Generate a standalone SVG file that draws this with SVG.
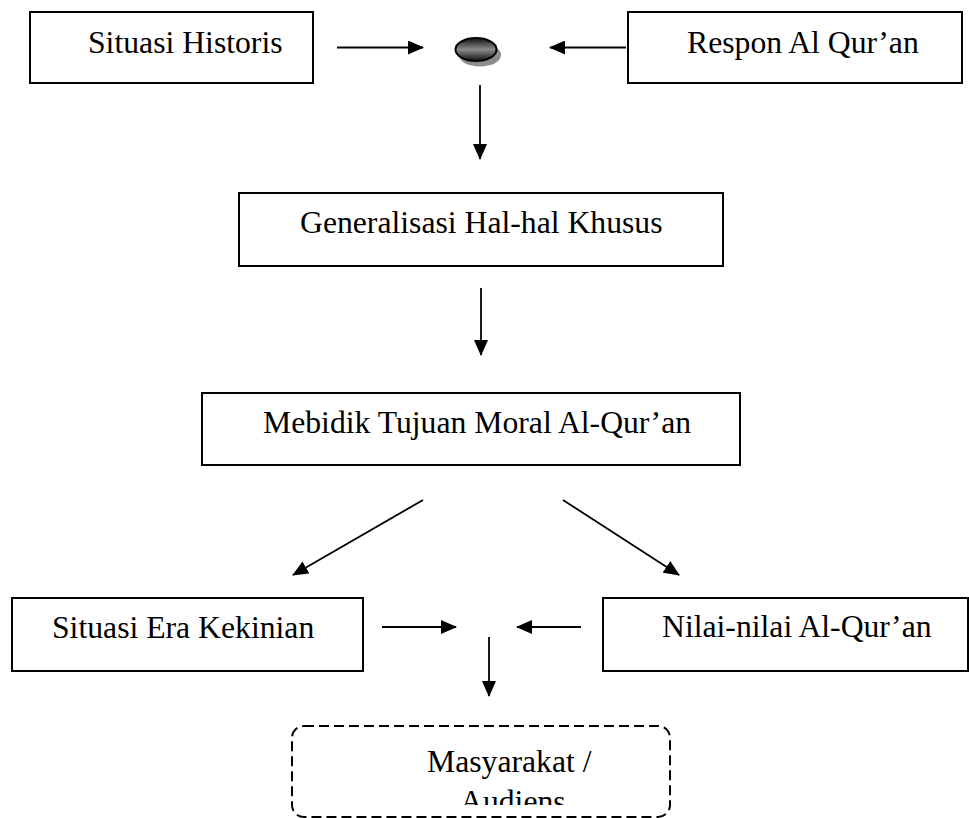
<svg xmlns="http://www.w3.org/2000/svg" width="969" height="818" viewBox="0 0 969 818">
<style>
.box{fill:#fff;stroke:#000;stroke-width:2}
.lbl{font-family:"Liberation Serif","Times New Roman",serif;font-size:31.7px;fill:#000}
.con{stroke:#000;stroke-width:1.8;fill:none;marker-end:url(#ah)}
</style>
<defs>
<marker id="ah" markerUnits="userSpaceOnUse" markerWidth="16" markerHeight="14" refX="15" refY="7" orient="auto">
<path d="M0,0 L16,7 L0,14 z" fill="#000"/>
</marker>
<linearGradient id="eg" x1="0" y1="0" x2="0" y2="1">
<stop offset="0" stop-color="#111"/>
<stop offset="0.5" stop-color="#8a8a8a"/>
<stop offset="1" stop-color="#111"/>
</linearGradient>
<clipPath id="clipA"><rect x="292" y="726" width="378" height="79"/></clipPath>
</defs>
<rect width="969" height="818" fill="#fff"/>
<g id="n-historis">
<rect class="box" x="30" y="12" width="283" height="71"/>
<text class="lbl" x="88" y="53">Situasi Historis</text>
</g>
<g id="n-respon">
<rect class="box" x="628" y="12" width="334" height="71"/>
<text class="lbl" x="687" y="53">Respon Al Qur’an</text>
</g>
<g id="n-dot">
<ellipse cx="480" cy="55" rx="21" ry="11.5" fill="#8c8c8c"/>
<ellipse cx="476" cy="49.5" rx="20.5" ry="11.5" fill="url(#eg)" stroke="#000" stroke-width="2"/>
</g>
<g id="n-general">
<rect class="box" x="239" y="193" width="484" height="73"/>
<text class="lbl" x="300" y="233">Generalisasi Hal-hal Khusus</text>
</g>
<g id="n-mebidik">
<rect class="box" x="202" y="393" width="538" height="72"/>
<text class="lbl" x="263" y="433">Mebidik Tujuan Moral Al-Qur’an</text>
</g>
<g id="n-era">
<rect class="box" x="12" y="598" width="351" height="73"/>
<text class="lbl" x="52" y="638">Situasi Era Kekinian</text>
</g>
<g id="n-nilai">
<rect class="box" x="603" y="598" width="365" height="73"/>
<text class="lbl" x="662" y="637">Nilai-nilai Al-Qur’an</text>
</g>
<g id="n-masyarakat">
<rect x="292" y="726" width="378" height="91" rx="12" ry="12" fill="#fff" stroke="#000" stroke-width="2" stroke-dasharray="10,5"/>
<g clip-path="url(#clipA)">
<text class="lbl" x="427" y="772">Masyarakat /</text>
<text class="lbl" x="460" y="812">Audiens</text>
</g>
</g>
<g id="connectors">
<line class="con" x1="337" y1="47.5" x2="423" y2="47.5"/>
<line class="con" x1="626" y1="47.5" x2="550" y2="47.5"/>
<line class="con" x1="480" y1="85" x2="480" y2="159"/>
<line class="con" x1="481" y1="288" x2="481" y2="355"/>
<line class="con" x1="423" y1="500" x2="293" y2="575"/>
<line class="con" x1="563" y1="500" x2="679" y2="575"/>
<line class="con" x1="382" y1="627" x2="456" y2="627"/>
<line class="con" x1="581" y1="627" x2="517" y2="627"/>
<line class="con" x1="489" y1="637" x2="489" y2="696"/>
</g>
</svg>
